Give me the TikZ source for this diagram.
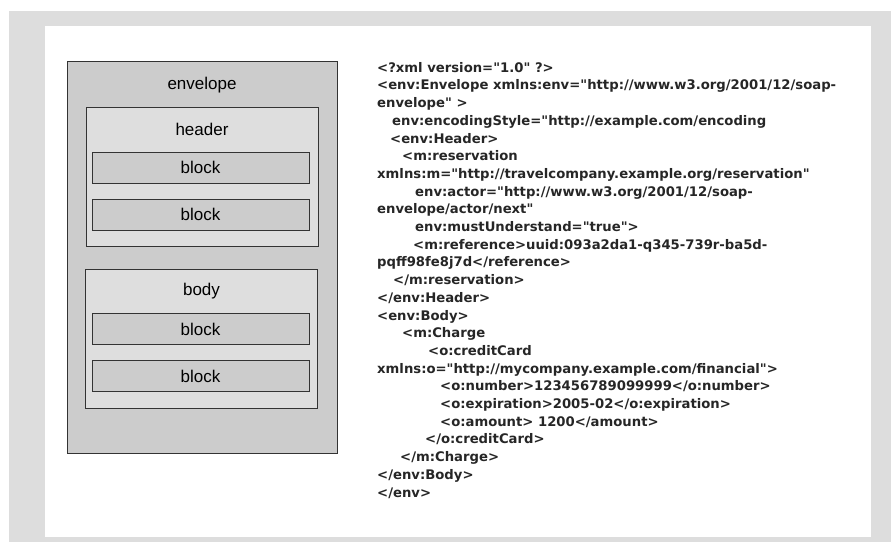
\documentclass[tikz,border=0pt]{standalone}
\usepackage{fontspec}
\setmainfont{Liberation Sans}
\newfontfamily\xmlfont{DejaVu Sans}
\usetikzlibrary{positioning}
\definecolor{framegray}{HTML}{DDDDDD}
\definecolor{outergray}{HTML}{CCCCCC}
\definecolor{innergray}{HTML}{DEDEDE}
\definecolor{edgegray}{HTML}{333333}

\begin{document}
\begin{tikzpicture}[x=1pt, y=-1pt,
                font=\fontsize{17}{20}\selectfont,
                box/.style={draw=edgegray, line width=1pt, inner sep=0pt},
                envelopebox/.style={box, fill=outergray, minimum width=270pt, minimum height=392pt},
                partbox/.style={box, fill=innergray, minimum width=232pt, minimum height=139pt},
                blockbox/.style={box, fill=outergray, minimum width=217pt, minimum height=31pt},
                tag/.style={inner sep=0pt},
                code/.style={font={\xmlfont\bfseries\fontsize{13.2}{17.7}\selectfont}, align=left, inner sep=0pt, text=black!85}]

    \useasboundingbox (0,0) rectangle (891,542);
    \fill[framegray] (9,11) rectangle (891,542);
    \fill[white] (45,26) rectangle (871,537);

    %%% NODES
    \node [envelopebox] (envelope) at (202,257) {};
    \node [tag, below=16pt of envelope.north] (envelopelabel) {envelope};

    \node [partbox] (header) at (202,176.5) {};
    \node [tag, below=16pt of header.north] (headerlabel) {header};
    \node [blockbox] (headerblocka) at (200.5,167.5) {block};
    \node [blockbox, below=15pt of headerblocka] (headerblockb) {block};

    \node [partbox] (body) at (201.5,339) {};
    \node [tag, below=14pt of body.north] (bodylabel) {body};
    \node [blockbox] (bodyblocka) at (200.5,329) {block};
    \node [blockbox, below=15pt of bodyblocka] (bodyblockb) {block};

    %%% XML SOURCE
    \node [code, anchor=north west] (xmlsource) at (377,62) {%
<?xml version="1.0" ?>\\
<env:Envelope xmlns:env="http://www.w3.org/2001/12/soap-\\
envelope" >\\
\hspace*{15pt}env:encodingStyle="http://example.com/encoding\\
\hspace*{13pt}<env:Header>\\
\hspace*{25pt}<m:reservation\\
xmlns:m="http://travelcompany.example.org/reservation"\\
\hspace*{38pt}env:actor="http://www.w3.org/2001/12/soap-\\
envelope/actor/next"\\
\hspace*{38pt}env:mustUnderstand="true">\\
\hspace*{36pt}<m:reference>uuid:093a2da1-q345-739r-ba5d-\\
pqff98fe8j7d</reference>\\
\hspace*{16pt}</m:reservation>\\
</env:Header>\\
<env:Body>\\
\hspace*{25pt}<m:Charge\\
\hspace*{51pt}<o:creditCard\\
xmlns:o="http://mycompany.example.com/financial">\\
\hspace*{63pt}<o:number>123456789099999</o:number>\\
\hspace*{63pt}<o:expiration>2005-02</o:expiration>\\
\hspace*{63pt}<o:amount> 1200</amount>\\
\hspace*{48pt}</o:creditCard>\\
\hspace*{23pt}</m:Charge>\\
</env:Body>\\
</env>};

\end{tikzpicture}
\end{document}
